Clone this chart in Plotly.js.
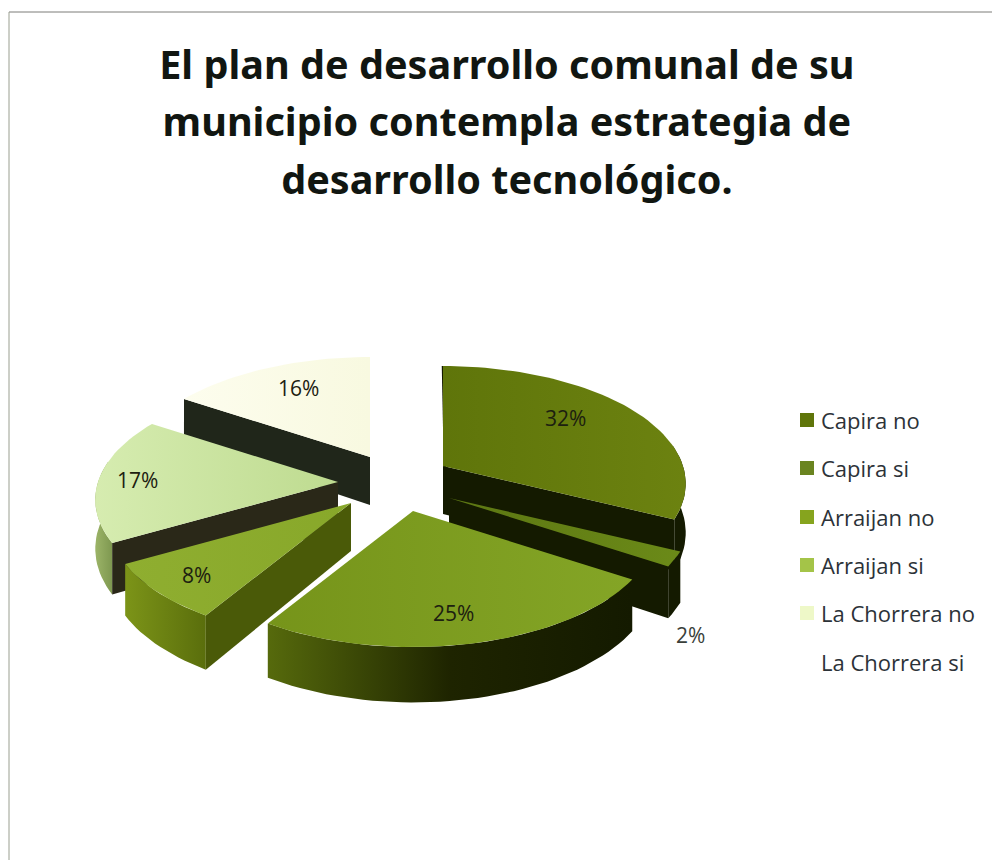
<!DOCTYPE html>
<html>
<head>
<meta charset="utf-8">
<script src="https://cdn.plot.ly/plotly-3.0.1.min.js"></script>
<style>html,body{margin:0;padding:0;background:#fff}#chart{width:992px;height:860px}</style>
</head>
<body>
<div id="chart"></div>
<script>
// Survey shares per municipality and answer
const categories = ['Capira no', 'Capira si', 'Arraijan no', 'Arraijan si', 'La Chorrera no', 'La Chorrera si'];
const shares = [32, 2, 25, 8, 17, 16];
const chartTitleLines = ['El plan de desarrollo comunal de su', 'municipio contempla estrategia de', 'desarrollo tecnológico.'];

// Where each exploded wedge has its tip, on a 992x860 coordinate plane
const tipX = [443, 449, 413, 351, 338, 370];
const tipY = [466, 498, 511, 503, 482, 457];
// Centre of each percentage label
const labelX = [565, 298, 137, 196, 453, 690];
const labelIndex = [0, 5, 4, 3, 2, 1];
const labelY = [418, 388, 480, 575, 613, 635];

// Wedge styling
const topColors = [
  ['#5f750a', '#6c8210'], ['#5c7612', '#6b8a18'], ['#76941a', '#84a526'],
  ['#8fae30', '#88a82a'], ['#d6ecb0', '#bedb90'], ['#fdfdee', '#f8f9e0']
];
const rimColors = [
  ['#141a00', '#141a00'], ['#141a00', '#141a00'], ['#566a0c', '#1e2400', '#141a00'],
  ['#7c9418', '#5a6e0c'], ['#9cb468', '#7e9850'], ['#cfd8a8', '#cfd8a8']
];
const faceColors = ['#141a00', '#141a00', '#141a00', '#4a5a08', '#2a2818', '#20261a'];
const legendKeyColors = ['#5f750a', '#6a8420', '#86a41e', '#a4c448', '#eef8c8', '#ffffff'];
const paintOrder = [5, 4, 3, 0, 1, 2];

// Projection of the tilted disc
const RADIUS_X = 240, RADIUS_Y = 118, PERSPECTIVE = 0.153, WALL = 48;

function project(i, deg, down) {
  const a = deg * Math.PI / 180;
  const near = -Math.cos(a);
  const s = 1 + PERSPECTIVE * near;
  return [
    tipX[i] + RADIUS_X * Math.sin(a) * s,
    tipY[i] + RADIUS_Y * near * s + (down ? WALL * s : 0)
  ];
}

function arc(i, from, to, down) {
  const pts = [];
  const steps = Math.max(2, Math.ceil(Math.abs(to - from) / 2));
  for (let k = 0; k <= steps; k++) pts.push(project(i, from + (to - from) * k / steps, down));
  return pts;
}

function polygon(pts, name, fill, gradient) {
  const t = {
    type: 'scatter', mode: 'lines', name: name, showlegend: false, hoverinfo: 'name',
    x: pts.map(p => p[0]), y: pts.map(p => p[1]),
    fill: 'toself', fillcolor: fill, line: {width: 0, color: fill}
  };
  if (gradient) {
    t.fillgradient = {
      type: 'horizontal',
      colorscale: gradient.map((c, k) => [k / (gradient.length - 1), c])
    };
  }
  return t;
}

// Build wedge angles from the shares
const total = shares.reduce((a, b) => a + b, 0);
const startDeg = [], endDeg = [];
shares.reduce((acc, v, i) => {
  startDeg[i] = acc * 360 / total;
  endDeg[i] = (acc + v) * 360 / total;
  return acc + v;
}, 0);

const traces = [];
paintOrder.forEach(i => {
  const name = categories[i];
  const s = startDeg[i], e = endDeg[i];
  const tip = [tipX[i], tipY[i]];
  const tipDown = [tipX[i], tipY[i] + WALL];

  // Outer wall, where the rim faces the viewer
  const rimFrom = Math.max(s, 80), rimTo = Math.min(e, 280);
  if (rimTo > rimFrom) {
    const upper = arc(i, rimFrom, rimTo, false), lower = arc(i, rimTo, rimFrom, true);
    traces.push(polygon(upper.concat(lower), name, rimColors[i][0], rimColors[i]));
  }
  // Cut face turned towards the viewer
  let faceDeg = null;
  if (e > 0 && e < 180) faceDeg = e;
  if (s > 180 && s < 360) faceDeg = s;
  if (faceDeg !== null) {
    const outer = project(i, faceDeg, false), outerDown = project(i, faceDeg, true);
    traces.push(polygon([tip, outer, outerDown, tipDown], name, faceColors[i]));
  }
  // Thin sliver of the first wedge's leading cut
  if (i === 0) {
    const far = project(i, 0, false);
    traces.push({
      type: 'scatter', mode: 'lines', showlegend: false, hoverinfo: 'skip',
      x: [far[0], tipX[i] + 3], y: [far[1], tipY[i] + WALL],
      line: {color: '#141a00', width: 2.5}
    });
  }
  // Top surface
  const top = [tip].concat(arc(i, s, e, false));
  traces.push(polygon(top, name, topColors[i][0], topColors[i]));
});

// Legend column: square keys with their names
const legendX = 807, legendText = 819;
const legendRowY = [420, 468, 517, 565, 613, 662];
traces.push({
  type: 'scatter', mode: 'markers', showlegend: false, hoverinfo: 'skip',
  x: legendRowY.map(() => legendX), y: legendRowY,
  marker: {symbol: 'square', size: 14, color: legendKeyColors, line: {width: 0}}
});

const annotations = [];
categories.forEach((c, i) => annotations.push({
  x: legendText, y: legendRowY[i], xref: 'x', yref: 'y', xanchor: 'left', yanchor: 'middle',
  text: c, showarrow: false, font: {family: 'Open Sans', size: 22, color: '#2c3238'}
}));
labelIndex.forEach((idx, k) => annotations.push({
  x: labelX[k], y: labelY[k], xref: 'x', yref: 'y', xanchor: 'center', yanchor: 'middle',
  text: shares[idx] + '%', showarrow: false,
  font: {family: 'Open Sans', size: 21, color: idx === 1 ? '#3a3f3a' : '#1c2010'}
}));

const titleText = chartTitleLines
  .map(l => '<span style="font-size:39.6px">' + l + '</span>').join('<br>');

const layout = {
  width: 992, height: 860,
  margin: {l: 0, r: 0, t: 0, b: 0},
  paper_bgcolor: '#ffffff', plot_bgcolor: '#ffffff',
  showlegend: false,
  title: {
    text: titleText, x: 0.511, xanchor: 'center', y: 0.908, yanchor: 'top',
    font: {family: 'Noto Sans', size: 44, weight: 700, color: '#111611'}
  },
  xaxis: {range: [0, 992], visible: false, fixedrange: true},
  yaxis: {range: [860, 0], visible: false, fixedrange: true},
  annotations: annotations,
  shapes: [
    {type: 'line', xref: 'x', yref: 'y', x0: 9, y0: 12, x1: 992, y1: 12, line: {color: '#7c7c78', width: 1}},
    {type: 'line', xref: 'x', yref: 'y', x0: 9, y0: 12, x1: 9, y1: 860, line: {color: '#9a9f90', width: 1}}
  ]
};

Plotly.newPlot('chart', traces, layout, {displayModeBar: false, staticPlot: true});
</script>
</body>
</html>
